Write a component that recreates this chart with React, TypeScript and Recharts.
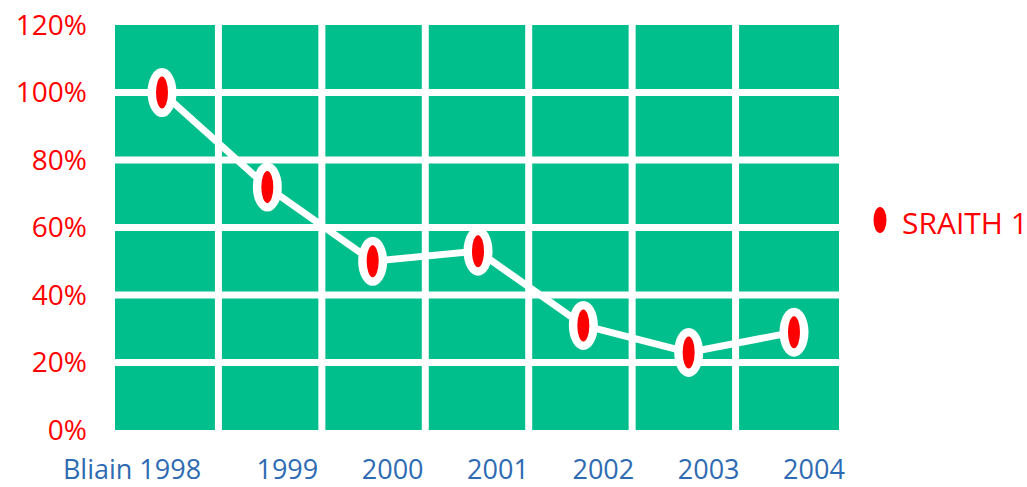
import { LineChart, Line, XAxis, YAxis, CartesianGrid } from "recharts";

const years = ["Bliain 1998", "1999", "2000", "2001", "2002", "2003", "2004"];
const sraith1 = [100, 72, 50, 53, 31, 23, 29];
const yTicks = [0, 20, 40, 60, 80, 100, 120];

const GREEN = "#00BF8C";
const RED = "#FF0000";
const BLUE = "#2E6BB2";
const FONT = "'Open Sans', sans-serif";

const data = years.map((y, i) => ({ year: y, s1: sraith1[i] }));

function Marker(props: any) {
  const { cx, cy, index } = props;
  if (cx == null || cy == null) return null;
  return (
    <g key={`m-${index}`}>
      <ellipse cx={cx} cy={cy} rx={14.5} ry={24.5} fill="#fff" />
      <ellipse cx={cx} cy={cy} rx={6} ry={16} fill={RED} />
    </g>
  );
}

function YearTick(props: any) {
  const { x, y, payload, index } = props;
  const dx = index === 0 ? -30 : 20;
  return (
    <text
      x={x + dx}
      y={y}
      dy="0.71em"
      textAnchor="middle"
      fill={BLUE}
      fontSize={27}
      fontFamily={FONT}
    >
      {payload.value}
    </text>
  );
}

export default function App() {
  return (
    <div
      style={{
        position: "absolute",
        left: 0,
        top: 0,
        width: 1027,
        height: 487,
        overflow: "hidden",
        background: "#fff",
      }}
    >
      <LineChart
        width={1027}
        height={487}
        data={data}
        margin={{ top: 25, right: 188, bottom: 0, left: 0 }}
      >
        <CartesianGrid
          fill={GREEN}
          fillOpacity={1}
          stroke="#fff"
          strokeWidth={7}
          horizontalValues={[20, 40, 60, 80, 100]}
          verticalCoordinatesGenerator={({ offset }: any) =>
            [1, 2, 3, 4, 5, 6].map((i) => offset.left + (i * offset.width) / years.length)
          }
        />
        <XAxis
          dataKey="year"
          height={57}
          axisLine={false}
          tickLine={false}
          tickSize={0}
          tickMargin={30}
          interval={0}
          padding={{ left: 47, right: 45 }}
          tick={<YearTick />}
        />
        <YAxis
          width={115}
          domain={[0, 120]}
          ticks={yTicks}
          interval={0}
          axisLine={false}
          tickLine={false}
          tickSize={0}
          tickMargin={28}
          tickFormatter={(v) => `${v}%`}
          tick={{ fill: RED, fontSize: 28, fontFamily: FONT }}
        />
        <Line
          dataKey="s1"
          name="SRAITH 1"
          stroke="#fff"
          strokeWidth={7}
          dot={<Marker />}
          activeDot={false}
          isAnimationActive={false}
        />
      </LineChart>
      {/* legend sits in the right margin, outside the plot */}
      <div
        style={{
          position: "absolute",
          left: 873,
          top: 200,
          display: "flex",
          alignItems: "center",
          gap: 15,
        }}
      >
        <svg width={14} height={28}>
          <ellipse cx={7} cy={14} rx={6.5} ry={13} fill={RED} />
        </svg>
        <span
          style={{
            color: RED,
            fontSize: 30,
            lineHeight: "34px",
            fontFamily: FONT,
            whiteSpace: "nowrap",
            marginTop: 6,
          }}
        >
          SRAITH 1
        </span>
      </div>
    </div>
  );
}
